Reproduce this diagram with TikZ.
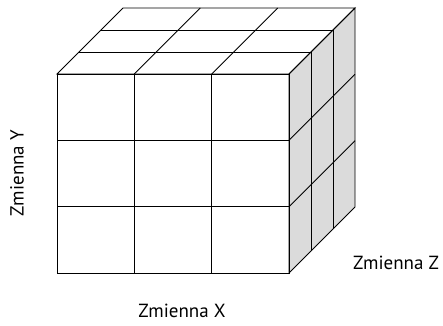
\documentclass[tikz,border=0pt]{standalone}
\usepackage{fontspec}
\setmainfont{PT Sans}
\usepackage{tikz}

\begin{document}
\begin{tikzpicture}[x=1pt, y=-1pt,
  edge/.style={line width=0.9pt, line join=miter},
  side/.style={edge, fill=black!14},
  lbl/.style={font=\fontsize{19}{22}\selectfont, inner sep=0pt}
]
  \useasboundingbox (0,0) rectangle (443,325);
  % cube: front face corners, depth offset 66
  \def\xl{57} \def\xr{289} \def\yt{74} \def\yb{273}
  % right face
  \draw[side] (\xr,\yt) -- (\xr+66,\yt-66) -- (\xr+66,\yb-66) -- (\xr,\yb) -- cycle;
  \foreach \k in {1,2}
    \draw[edge] (\xr+22*\k,\yt-22*\k) -- (\xr+22*\k,\yb-22*\k);
  \foreach \j in {1,2}
    \draw[edge] (\xr,{\yt+(\yb-\yt)*\j/3}) -- ++(66,-66);
  % top face
  \draw[edge] (\xl,\yt) -- (\xl+66,\yt-66) -- (\xr+66,\yt-66) -- (\xr,\yt) -- cycle;
  \foreach \k in {1,2}
    \draw[edge] (\xl+22*\k,\yt-22*\k) -- (\xr+22*\k,\yt-22*\k);
  \foreach \i in {1,2}
    \draw[edge] ({\xl+(\xr-\xl)*\i/3},\yt) -- ++(66,-66);
  % front face
  \draw[edge] (\xl,\yt) rectangle (\xr,\yb);
  \foreach \i in {1,2} {
    \draw[edge] ({\xl+(\xr-\xl)*\i/3},\yt) -- ({\xl+(\xr-\xl)*\i/3},\yb);
    \draw[edge] (\xl,{\yt+(\yb-\yt)*\i/3}) -- (\xr,{\yt+(\yb-\yt)*\i/3});
  }
  % axis labels
  \node[lbl, rotate=90] (zmy) at (17,173) {Zmienna Y};
  \node[lbl] (zmx) at (182,311) {Zmienna X};
  \node[lbl] (zmz) at (396,263) {Zmienna Z};
\end{tikzpicture}
\end{document}
